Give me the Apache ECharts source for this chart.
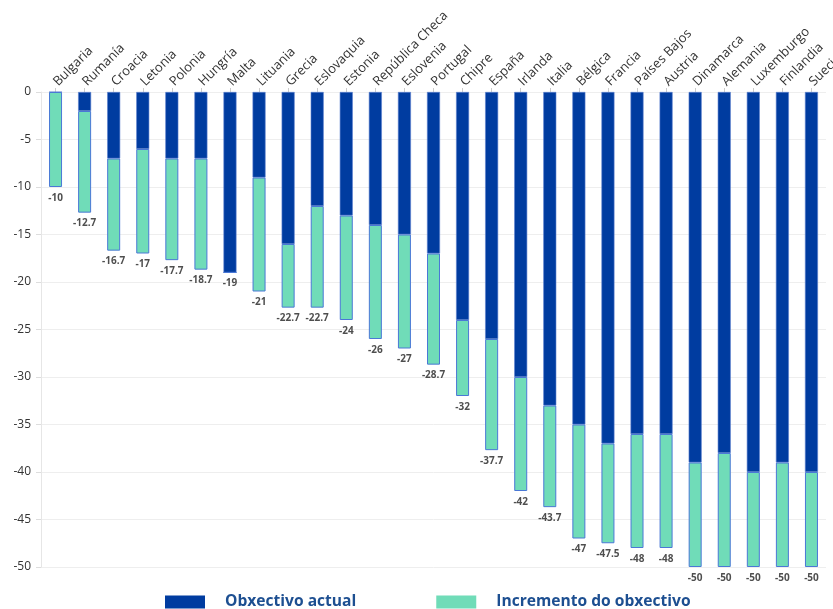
<!DOCTYPE html>
<html>
<head>
<meta charset="utf-8">
<script src="https://cdn.jsdelivr.net/npm/echarts@6/dist/echarts.min.js"></script>
<style>
html,body{margin:0;padding:0;background:#fff;}
#c{width:833px;height:609px;}
</style>
</head>
<body>
<div id="c"></div>
<script>
const categories = ["Bulgaria","Rumanía","Croacia","Letonia","Polonia","Hungría","Malta","Lituania","Grecia","Eslovaquia","Estonia","República Checa","Eslovenia","Portugal","Chipre","España","Irlanda","Italia","Bélgica","Francia","Países Bajos","Austria","Dinamarca","Alemania","Luxemburgo","Finlandia","Suecia"];
const actual = [0,-2,-7,-6,-7,-7,-19,-9,-16,-12,-13,-14,-15,-17,-24,-26,-30,-33,-35,-37,-36,-36,-39,-38,-40,-39,-40];
const total = [-10,-12.7,-16.7,-17,-17.7,-18.7,-19,-21,-22.7,-22.7,-24,-26,-27,-28.7,-32,-37.7,-42,-43.7,-47,-47.5,-48,-48,-50,-50,-50,-50,-50];
const increment = total.map((t,i)=>Math.round((t-actual[i])*10)/10);
const yTicks = [0,-5,-10,-15,-20,-25,-30,-35,-40,-45,-50];

const chart = echarts.init(document.getElementById('c'));
chart.setOption({
  animation:false,
  textStyle:{fontFamily:'"Open Sans", sans-serif'},
  grid:{left:41,right:7,top:92,bottom:42,containLabel:false,outerBoundsMode:'none'},
  legend:{
    bottom:-6,left:160,itemWidth:40,itemHeight:13,itemGap:80,
    icon:'rect',
    itemStyle:{borderWidth:0},
    textStyle:{color:'#1d4f91',fontSize:15.6,fontWeight:'bold',padding:[0,0,0,15]},
    data:['Obxectivo actual','Incremento do obxectivo']
  },
  xAxis:{
    type:'category',position:'top',data:categories,
    axisLine:{show:false},
    axisTick:{show:true,alignWithLabel:true,length:4,lineStyle:{color:'#ccc'}},
    axisLabel:{rotate:45,color:'#333',fontSize:13,margin:8,interval:0}
  },
  yAxis:{
    type:'value',min:-50,max:0,interval:5,
    axisLine:{show:true,lineStyle:{color:'#e6e6e6'}},
    axisTick:{show:true,length:5,lineStyle:{color:'#ddd'}},
    axisLabel:{color:'#333',fontSize:12,margin:10},
    splitLine:{lineStyle:{color:'#eeeeee'}}
  },
  series:[
    {name:'Obxectivo actual',type:'bar',stack:'a',data:actual,barWidth:13,
     itemStyle:{color:'#003ca0',borderColor:'#5a80d0',borderWidth:0.6}},
    {name:'Incremento do obxectivo',type:'bar',stack:'a',data:increment,barWidth:13,
     itemStyle:{color:'#70dcb8',borderColor:'#4a78d6',borderWidth:1}},
    {name:'totals',type:'scatter',data:total,symbolSize:0,silent:true,
     label:{show:true,position:'bottom',distance:6,color:'#222',fontSize:10,fontWeight:'bold',
       formatter:p=>String(p.value)}}
  ]
});
</script>
</body>
</html>
